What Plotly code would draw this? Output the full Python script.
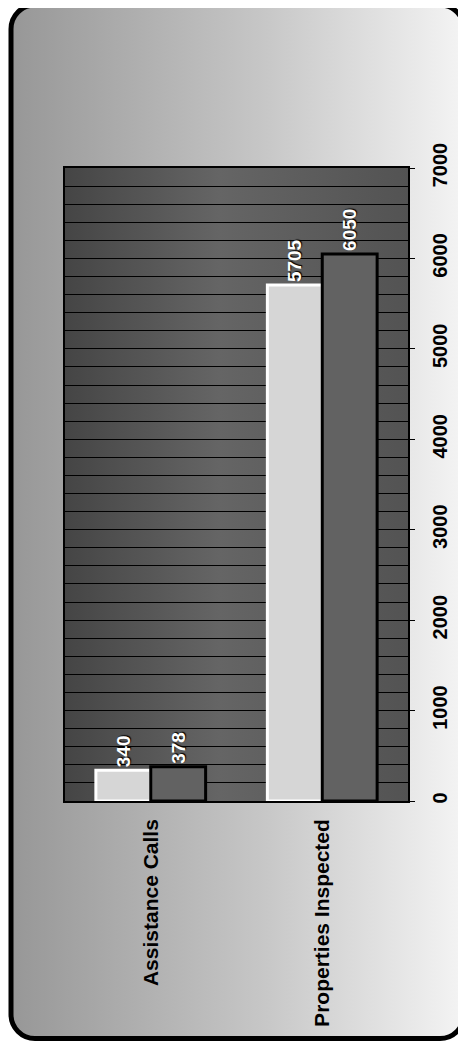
import base64
import plotly.graph_objects as go

# ---- data ----
categories = ["Assistance Calls", "Properties Inspected"]
series_a_name = "Series 1"
series_a_values = [340, 5705]
series_b_name = "Series 2"
series_b_values = [378, 6050]
value_ticks = [0, 1000, 2000, 3000, 4000, 5000, 6000, 7000]

# ---- layout geometry (page body has an 8px default margin) ----
OFF = 8
W, H = 466 - OFF, 1042 - OFF
ML, MR, MT, MB = 65 - OFF, 58, 168 - OFF, 241
PW, PH = W - ML - MR, H - MT - MB

svg = f"""<svg xmlns='http://www.w3.org/2000/svg' width='{W}' height='{H}' viewBox='0 0 {W} {H}' preserveAspectRatio='none'>
<defs>
<linearGradient id='g' x1='0' y1='0' x2='1' y2='0'>
<stop offset='0' stop-color='#979797'/>
<stop offset='0.55' stop-color='#c6c6c6'/>
<stop offset='1' stop-color='#f4f4f4'/>
</linearGradient>
<linearGradient id='p' x1='0' y1='0' x2='1' y2='0'>
<stop offset='0' stop-color='#454545'/>
<stop offset='0.45' stop-color='#656565'/>
<stop offset='1' stop-color='#535353'/>
</linearGradient>
</defs>
<rect x='3' y='-3' width='{W-5}' height='{H-0.5}' rx='24' ry='24' fill='url(#g)' stroke='black' stroke-width='5'/>
<rect x='{ML}' y='{MT}' width='{PW}' height='{PH}' fill='url(#p)'/>
</svg>"""
svg_uri = "data:image/svg+xml;base64," + base64.b64encode(svg.encode()).decode()

label_font = dict(family="Liberation Sans, Arial", size=19, color="white", weight="bold",
                  shadow="1px 1px 1px black")

fig = go.Figure()
fig.add_trace(go.Bar(
    name=series_a_name, x=categories, y=series_a_values,
    marker=dict(color="#d6d6d6", line=dict(color="white", width=3)),
    text=[str(v) for v in series_a_values], textposition="outside", textangle=-90,
    textfont=label_font, cliponaxis=False, constraintext="none",
))
fig.add_trace(go.Bar(
    name=series_b_name, x=categories, y=series_b_values,
    marker=dict(color="#626262", line=dict(color="black", width=3)),
    text=[str(v) for v in series_b_values], textposition="outside", textangle=-90,
    textfont=label_font, cliponaxis=False, constraintext="none",
))

fig.update_layout(
    width=W, height=H,
    margin=dict(l=ML, r=MR, t=MT, b=MB, pad=0),
    paper_bgcolor="white",
    plot_bgcolor="rgba(0,0,0,0)",
    barmode="group", bargap=0.36, bargroupgap=0,
    showlegend=False,
    images=[dict(
        source=svg_uri, xref="paper", yref="paper",
        x=-ML / PW, y=1 + MT / PH, sizex=W / PW, sizey=H / PH,
        xanchor="left", yanchor="top", sizing="stretch", layer="below",
    )],
    xaxis=dict(
        tickangle=-90, showline=True, linecolor="black", linewidth=1.5, mirror=True,
        tickfont=dict(family="Liberation Sans, Arial", size=21, color="black", weight="bold"),
        ticks="", ticklabelstandoff=8, showgrid=False,
    ),
    yaxis=dict(
        side="right", range=[0, 7000], tickvals=value_ticks,
        ticktext=[str(v) for v in value_ticks],
        tickangle=-90, ticks="outside", ticklen=5, tickcolor="black",
        ticklabelstandoff=8,
        tickfont=dict(family="Liberation Sans, Arial", size=20, color="black", weight="bold"),
        showline=True, linecolor="black", linewidth=1.5, mirror=True,
        showgrid=True, gridcolor="black", gridwidth=1,
        minor=dict(dtick=200, showgrid=True, gridcolor="black", gridwidth=1),
        zeroline=False,
    ),
)

fig.write_html("out.html")
